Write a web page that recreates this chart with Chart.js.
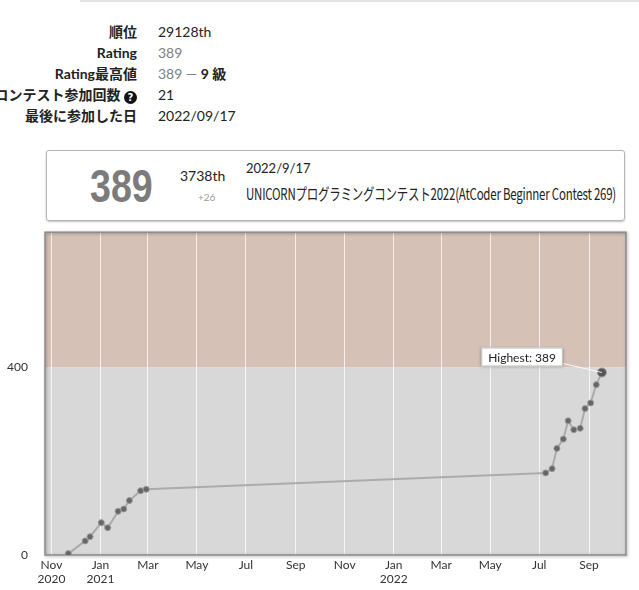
<!DOCTYPE html>
<html>
<head>
<meta charset="utf-8">
<script src="https://cdn.jsdelivr.net/npm/chart.js@4"></script>
<style>
  body { margin: 0; width: 639px; height: 590px; position: relative; overflow: hidden; background: #fff;
         font-family: Lato, "Noto Sans CJK JP", sans-serif; color: #222; }
  .topline { position: absolute; left: 80px; right: 0; top: 0; height: 2px; background: #e2e2e2; }
  .lbl { position: absolute; right: 502px; white-space: nowrap; text-align: right; font-weight: bold; font-size: 14px; line-height: 20px; }
  .val { position: absolute; left: 158px; white-space: nowrap; font-size: 14px; line-height: 20px; }
  .gray { color: #808080; }
  .q { display: inline-block; width: 13px; height: 13px; border-radius: 50%; background: #111; color: #fff;
       font-size: 10px; line-height: 13px; text-align: center; vertical-align: -1px; font-family: "DejaVu Sans", sans-serif; }
  .box { position: absolute; left: 46px; top: 150px; width: 577px; height: 69px; border: 1px solid #b5b5b5; border-radius: 3px;
         box-shadow: 0 1px 2px rgba(0,0,0,0.25); }
  .big { position: absolute; left: 43px; top: 7px; font-family: "Liberation Sans", sans-serif;
         font-weight: bold; font-size: 47px; line-height: 56px; color: #7b7b7b; transform: scaleX(0.8); transform-origin: 0 0; }
  .place { position: absolute; left: 133px; top: 16px; font-size: 14px; }
  .diff { position: absolute; left: 151px; top: 40px; font-size: 10px; color: #999; }
  .date { position: absolute; left: 199px; top: 9px; font-size: 13px; }
  .name { position: absolute; left: 199px; top: 30px; font-size: 16px; white-space: nowrap; transform-origin: 0 0;
          font-family: "Noto Sans CJK JP", sans-serif; letter-spacing: -0.3px; }
  #wrap { position: absolute; left: 0; top: 216px; width: 639px; height: 374px; }
</style>
</head>
<body>
<div class="topline"></div>
<div class="lbl" style="top:22px">順位</div><div class="val" style="top:22px">29128th</div>
<div class="lbl" style="top:43px">Rating</div><div class="val gray" style="top:43px">389</div>
<div class="lbl" style="top:64px">Rating最高値</div><div class="val" style="top:64px"><span class="gray">389 —</span> <b>9 級</b></div>
<div class="lbl" style="top:85px">コンテスト参加回数 <span class="q">?</span></div><div class="val" style="top:85px">21</div>
<div class="lbl" style="top:106px">最後に参加した日</div><div class="val" style="top:106px">2022/09/17</div>

<div class="box">
  <div class="big">389</div>
  <div class="place">3738th</div>
  <div class="diff">+26</div>
  <div class="date">2022/9/17</div>
  <div class="name" id="cname">UNICORNプログラミングコンテスト2022(AtCoder Beginner Contest 269)</div>
</div>

<div id="wrap"><canvas id="rating"></canvas></div>

<script>
// contest dates and rating after each contest
const contestDates = [
  '2020-11-22', '2020-12-13', '2020-12-19', '2021-01-02', '2021-01-10', '2021-01-23', '2021-01-30',
  '2021-02-06', '2021-02-20', '2021-02-27', '2022-07-09', '2022-07-17', '2022-07-23', '2022-07-31',
  '2022-08-06', '2022-08-13', '2022-08-21', '2022-08-27', '2022-09-03', '2022-09-10', '2022-09-17'
];
const ratings = [3, 30, 39, 69, 58, 93, 98, 116, 137, 140, 175, 184, 227, 247, 286, 267, 270, 312, 324, 363, 389];

const rangeStart = '2020-10-24';
const rangeEnd = '2022-10-17';
const rankBorders = [0, 400];
const rankColors = ['#d8d8d8', '#d6c1b6'];
const monthNames = ['Jan', 'Feb', 'Mar', 'Apr', 'May', 'Jun', 'Jul', 'Aug', 'Sep', 'Oct', 'Nov', 'Dec'];
const yMax = 688;

function dayNum(s) { const p = s.split('-'); return Date.UTC(+p[0], +p[1] - 1, +p[2]) / 86400000; }

// squeeze the contest title into its box width
const nameEl = document.getElementById('cname');
nameEl.style.transform = `scaleX(${370 / nameEl.offsetWidth})`;

const points = contestDates.map((d, i) => ({ x: dayNum(d), y: ratings[i] }));
const last = points.length - 1;

// ---- background bands, frame, "Highest" label ----
const bandPlugin = {
  id: 'bands',
  beforeDraw(chart) {
    const { ctx, chartArea: a, scales: { y } } = chart;
    ctx.save();
    for (let i = 0; i < rankBorders.length; i++) {
      const lo = y.getPixelForValue(rankBorders[i]);
      const hi = i + 1 < rankBorders.length ? y.getPixelForValue(rankBorders[i + 1]) : a.top;
      ctx.fillStyle = rankColors[i];
      ctx.fillRect(a.left, Math.max(hi, a.top), a.right - a.left, Math.min(lo, a.bottom) - Math.max(hi, a.top));
    }
    ctx.restore();
  },
  beforeDatasetsDraw(chart) {
    const { ctx, chartArea: a } = chart;
    ctx.save();
    ctx.shadowColor = 'rgba(0,0,0,0.35)';
    ctx.shadowBlur = 3;
    ctx.shadowOffsetX = 1;
    ctx.shadowOffsetY = 1;
    ctx.strokeStyle = '#8c8c8c';
    ctx.lineWidth = 1.5;
    ctx.strokeRect(a.left, a.top, a.right - a.left, a.bottom - a.top);
    ctx.restore();
  },
  afterDatasetsDraw(chart) {
    const { ctx } = chart;
    const pt = chart.getDatasetMeta(0).data[last];
    const text = 'Highest: ' + ratings[last];
    ctx.save();
    ctx.font = '12px Lato';
    const w = ctx.measureText(text).width + 14;
    const h = 19;
    const bx = pt.x - 39 - w, by = pt.y - 6 - h;
    ctx.strokeStyle = 'rgba(255,255,255,0.9)';
    ctx.lineWidth = 1;
    ctx.beginPath();
    ctx.moveTo(bx + w, by + h - 3);
    ctx.lineTo(pt.x, pt.y);
    ctx.stroke();
    ctx.shadowColor = 'rgba(0,0,0,0.35)';
    ctx.shadowBlur = 3;
    ctx.shadowOffsetY = 1;
    ctx.fillStyle = '#fff';
    ctx.fillRect(bx, by, w, h);
    ctx.shadowColor = 'transparent';
    ctx.strokeStyle = '#bbb';
    ctx.strokeRect(bx + 0.5, by + 0.5, w - 1, h - 1);
    ctx.fillStyle = '#222';
    ctx.textBaseline = 'middle';
    ctx.fillText(text, bx + 7, by + h / 2 + 1);
    ctx.restore();
  }
};

new Chart(document.getElementById('rating'), {
  type: 'line',
  data: {
    datasets: [{
      data: points,
      borderColor: '#ababab',
      borderWidth: 2,
      pointRadius: points.map((p, i) => i === last ? 4.5 : 3),
      pointBackgroundColor: points.map((p, i) => i === last ? '#555' : '#666'),
      pointBorderColor: '#9a9a9a',
      pointBorderWidth: 1,
      tension: 0
    }]
  },
  options: {
    responsive: true,
    maintainAspectRatio: false,
    animation: false,
    layout: { padding: { top: 5, right: 13, left: 0, bottom: 0 } },
    plugins: { legend: { display: false }, tooltip: { enabled: false } },
    scales: {
      x: {
        type: 'linear',
        min: dayNum(rangeStart),
        max: dayNum(rangeEnd),
        // a tick on the 1st of every odd month (Jan, Mar, ... Nov)
        afterBuildTicks(s) {
          s.ticks = [];
          for (let y = 2020; y <= 2022; y++) {
            for (let m = 0; m < 12; m += 2) {
              const v = Date.UTC(y, m, 1) / 86400000;
              if (v >= s.min && v <= s.max) s.ticks.push({ value: v });
            }
          }
        },
        afterFit(s) { s.height = 35; },
        grid: { color: 'rgba(255,255,255,0.75)', lineWidth: 1, drawTicks: false },
        border: { display: false },
        ticks: {
          autoSkip: false,
          maxRotation: 0,
          padding: 3,
          color: '#333',
          font: { family: 'Lato', size: 12, lineHeight: 1.2 },
          callback(v, i) {
            const d = new Date(v * 86400000);
            const mo = monthNames[d.getUTCMonth()];
            return (i === 0 || d.getUTCMonth() === 0) ? [mo, String(d.getUTCFullYear())] : mo;
          }
        }
      },
      y: {
        min: 0,
        max: yMax,
        afterBuildTicks(s) { s.ticks = rankBorders.map(v => ({ value: v })); },
        afterFit(s) { s.width = 45; },
        grid: { display: false },
        border: { display: false },
        ticks: { padding: 9, color: '#333', font: { family: 'Lato', size: 12 } }
      }
    }
  },
  plugins: [bandPlugin]
});
</script>
</body>
</html>
